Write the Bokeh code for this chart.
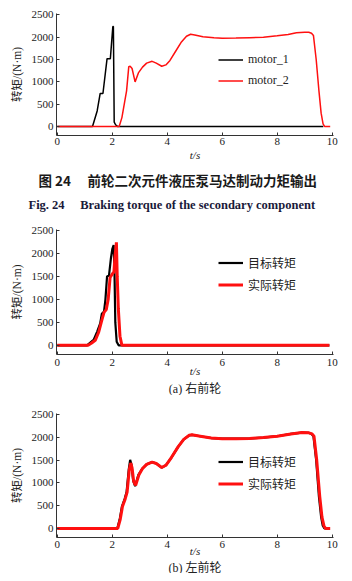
from bokeh.plotting import figure
from bokeh.layouts import column
from bokeh.models import Title, Range1d, Legend, LegendItem, FixedTicker
from bokeh.embed import file_html
from bokeh.resources import INLINE

# ---------------- data ----------------
# Fig 24: motor_1 / motor_2
m1_t = [0, 1.28, 1.45, 1.56, 1.66, 1.81, 1.93, 2.02, 2.04, 2.07, 2.12, 2.2, 9.68]
m1_v = [0, 0, 350, 740, 740, 1520, 1520, 2240, 2240, 100, 40, 0, 0]

m2_t = [0, 2.25, 2.35, 2.45, 2.52, 2.6, 2.65, 2.72, 2.83, 2.95, 3.1, 3.25, 3.45, 3.6,
        3.8, 3.95, 4.1, 4.3, 4.5, 4.7, 4.85, 5.0, 5.3, 5.7, 6.0, 6.5, 7.0, 7.5, 8.0,
        8.4, 8.7, 9.0, 9.15, 9.25, 9.32, 9.42, 9.52, 9.6, 9.67, 9.73, 9.93]
m2_v = [0, 0, 200, 550, 800, 1340, 1350, 1300, 1000, 1200, 1330, 1420, 1460, 1420,
        1350, 1380, 1480, 1680, 1880, 2020, 2065, 2050, 2010, 1985, 1975, 1980, 1990,
        2000, 2030, 2060, 2100, 2110, 2110, 2090, 2040, 1500, 800, 300, 60, 0, 0]

# (a) right front wheel
a_target_t = [0, 1.08, 1.2, 1.32, 1.45, 1.56, 1.62, 1.7, 1.75, 1.81, 1.88, 1.95, 2.0,
              2.05, 2.08, 2.11, 2.16, 2.23, 9.9]
a_target_v = [0, 0, 60, 120, 300, 480, 690, 740, 1000, 1510, 1520, 1900, 2100,
              2190, 1600, 500, 80, 0, 0]
a_actual_t = [0, 1.12, 1.25, 1.38, 1.5, 1.62, 1.7, 1.78, 1.85, 1.92, 2.0, 2.06,
              2.1, 2.15, 2.18, 2.22, 2.28, 2.35, 9.9]
a_actual_v = [0, 0, 50, 110, 280, 550, 720, 780, 1000, 1480, 1560, 1600,
              1950, 2250, 1500, 800, 200, 0, 0]

# (b) left front wheel
b_target_t = [0, 2.18, 2.27, 2.35, 2.45, 2.52, 2.6, 2.65, 2.7, 2.76, 2.83, 2.95, 3.1,
              3.25, 3.45, 3.6, 3.8, 3.95, 4.15, 4.4, 4.6, 4.8, 4.9, 5.2, 5.6, 6.0,
              6.5, 7.0, 7.5, 8.0, 8.5, 8.9, 9.15, 9.25, 9.32, 9.42, 9.52, 9.6,
              9.66, 9.72, 9.9]
b_target_v = [0, 0, 200, 480, 650, 800, 1300, 1510, 1400, 1050, 930, 1180, 1320,
              1410, 1460, 1430, 1340, 1390, 1560, 1800, 1960, 2050, 2060, 2030, 1990,
              1975, 1975, 1980, 2000, 2030, 2080, 2110, 2105, 2080, 2030, 1500, 700,
              250, 60, 0, 0]
b_actual_t = [0, 2.2, 2.29, 2.37, 2.47, 2.54, 2.62, 2.67, 2.72, 2.78, 2.85, 2.97,
              3.1, 3.25, 3.45, 3.6, 3.8, 3.95, 4.15, 4.4, 4.6, 4.8, 4.9, 5.2, 5.6,
              6.0, 6.5, 7.0, 7.5, 8.0, 8.5, 8.9, 9.15, 9.27, 9.34, 9.44, 9.55, 9.63,
              9.7, 9.76, 9.93]
b_actual_v = [0, 0, 200, 480, 650, 800, 1300, 1440, 1330, 1030, 950, 1180, 1320,
              1410, 1460, 1430, 1340, 1390, 1560, 1800, 1960, 2050, 2060, 2030, 1990,
              1975, 1975, 1980, 2000, 2030, 2080, 2110, 2105, 2080, 2030, 1500, 700,
              250, 60, 0, 0]

x_ticks = [0, 2, 4, 6, 8, 10]
y_ticks = [0, 500, 1000, 1500, 2000, 2500]
y_label = "转矩/(N·m)"
x_label = "t/s"

SERIF = "'Liberation Serif', 'Times New Roman', serif"
YLAB = "'Liberation Serif', 'Noto Sans CJK SC', serif"
CJK = "'Noto Sans CJK SC', sans-serif"


def make_fig(frame_height, frame_top, tick_standoff, label_standoff):
    p = figure(width=352, frame_width=277, frame_height=frame_height,
               output_backend="svg", toolbar_location=None,
               x_range=Range1d(-0.03, 10.05), y_range=Range1d(-200, 2530),
               min_border_left=56, min_border_right=19, min_border_top=frame_top,
               min_border_bottom=0)
    p.outline_line_color = None
    p.grid.visible = False
    p.background_fill_color = "white"
    p.border_fill_color = "white"
    for ax in (p.xaxis[0], p.yaxis[0]):
        ax.axis_line_color = "#333333"
        ax.axis_line_width = 1
        ax.major_tick_in = 3
        ax.major_tick_out = 0
        ax.minor_tick_line_color = None
        ax.major_tick_line_color = "#333333"
        ax.major_label_text_font = SERIF
        ax.major_label_text_font_size = "11px"
        ax.major_label_text_color = "#222222"
    p.xaxis.ticker = FixedTicker(ticks=x_ticks)
    p.yaxis.ticker = FixedTicker(ticks=y_ticks)
    p.xaxis.major_label_standoff = tick_standoff
    p.yaxis.major_label_standoff = 3
    p.xaxis.axis_label = x_label
    p.xaxis.axis_label_text_font = SERIF
    p.xaxis.axis_label_text_font_style = "italic"
    p.xaxis.axis_label_text_font_size = "11px"
    p.xaxis.axis_label_text_color = "#222222"
    p.xaxis.axis_label_standoff = label_standoff
    p.yaxis.axis_label = y_label
    p.yaxis.axis_label_text_font = YLAB
    p.yaxis.axis_label_text_font_style = "normal"
    p.yaxis.axis_label_text_font_size = "11.5px"
    p.yaxis.axis_label_text_color = "#222222"
    p.yaxis.axis_label_standoff = 6
    return p


def add_legend(p, items, loc, font, size, spacing):
    lg = Legend(items=items, location=loc, padding=0, margin=0, spacing=spacing,
                glyph_width=25, glyph_height=15, label_height=15, label_standoff=5,
                border_line_alpha=0, background_fill_alpha=0,
                label_text_font=font, label_text_font_size=size,
                label_text_color="#222222")
    p.add_layout(lg)


def add_caption(p, text, font, size, style="normal", color="#222222", standoff=0,
                align="center", offset=0):
    t = Title(text=text, align=align, offset=offset, text_font=font,
              text_font_size=size, text_font_style=style, text_color=color,
              standoff=standoff)
    p.add_layout(t, "below")


# ---------- Fig 24 ----------
p1 = make_fig(122, 13, 2, 1)
r1 = p1.line(m1_t, m1_v, line_color="black", line_width=1.5)
r2 = p1.line(m2_t, m2_v, line_color="#ff1010", line_width=1.5)
add_legend(p1, [LegendItem(label="motor_1", renderers=[r1]),
                LegendItem(label="motor_2", renderers=[r2])], (162, 47),
           SERIF, "12px", 6)
add_caption(p1, "图 24\u3000  前轮二次元件液压泵马达制动力矩输出", CJK, "13.5px", "bold",
            "#1a1a1a", standoff=8, align="left", offset=-18)
add_caption(p1, "Fig. 24\u2002\u2002 Braking torque of the secondary component", SERIF,
            "12.5px", "bold", "#1a1a3a", standoff=5, align="left", offset=-28)

# ---------- (a) ----------
p2 = make_fig(125, 15, 4, -4)
r3 = p2.line(a_target_t, a_target_v, line_color="black", line_width=2.2)
r4 = p2.line(a_actual_t, a_actual_v, line_color="#ff1010", line_width=3)
add_legend(p2, [LegendItem(label="目标转矩", renderers=[r3]),
                LegendItem(label="实际转矩", renderers=[r4])], (162, 61),
           CJK, "12px", 5)
add_caption(p2, "(a) 右前轮", YLAB, "12px", "normal", "#222222", standoff=0)

# ---------- (b) ----------
p3 = make_fig(124, 18, 3, -6)
r5 = p3.line(b_target_t, b_target_v, line_color="black", line_width=2.2)
r6 = p3.line(b_actual_t, b_actual_v, line_color="#ff1010", line_width=3)
add_legend(p3, [LegendItem(label="目标转矩", renderers=[r5]),
                LegendItem(label="实际转矩", renderers=[r6])], (162, 45),
           CJK, "12px", 5)
add_caption(p3, "(b) 左前轮", YLAB, "12px", "normal", "#222222", standoff=-2)

layout = column(p1, p2, p3, spacing=0)
open("out.html", "w").write(file_html(layout, INLINE))
